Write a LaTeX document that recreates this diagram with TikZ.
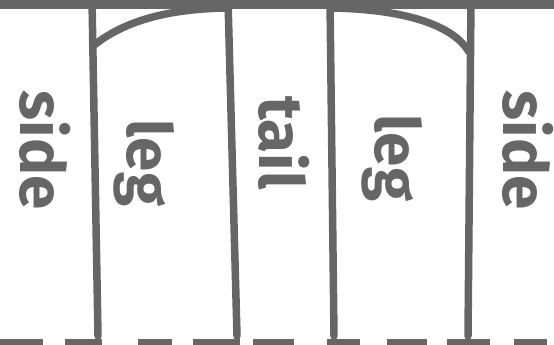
\documentclass[tikz,border=0pt]{standalone}
\usepackage{fontspec}
\setsansfont{Fira Sans}
\usepackage{tikz}
\usetikzlibrary{calc}
\definecolor{pencil}{RGB}{102,102,102}

\begin{document}
\begin{tikzpicture}[x=1pt, y=-1pt,
    stroke/.style={draw=pencil, line width=7.5pt, line cap=round},
    part/.style={text=pencil, rotate=-90, inner sep=0pt,
                 font=\sffamily\bfseries\fontsize{62}{62}\selectfont}
]
\useasboundingbox (0,0) rectangle (554,345);
% frame of the sketch
\coordinate (tl) at (0,4);
\coordinate (tr) at (554,4);
\draw[stroke, line width=10pt, line cap=butt] (tl) -- (tr);
\coordinate (a1) at (92,0);   \coordinate (a2) at (98,336);
\coordinate (b1) at (228,0);  \coordinate (b2) at (237,336);
\coordinate (c1) at (330,0);  \coordinate (c2) at (334,336);
\coordinate (d1) at (471,0);  \coordinate (d2) at (468,336);
\draw[stroke] (a1) -- (a2);
\draw[stroke] (b1) -- (b2);
\draw[stroke] (c1) -- (c2);
\draw[stroke] (d1) -- (d2);
% rounded tops of the legs
\draw[stroke] (93,46) .. controls (125,20) and (170,9) .. (226,8);
\draw[stroke] (332,8) .. controls (390,9) and (450,20) .. (469,52);
% dashed ground line
\foreach \from/\to in {0/43, 65/102, 138/172, 193/240, 253/294,
                       327/360, 387/427, 447/490, 514/547}
  \draw[stroke, line cap=butt] (\from,343) -- (\to,343);
% labels
\node[part] (side1) at (45,150) {side};
\node[part] (leg1) at (144,163) {leg};
\node[part] (tail) at (284,143) {tail};
\node[part] (leg2) at (392,158) {leg};
\node[part] (side2) at (528,150) {side};
\end{tikzpicture}
\end{document}
